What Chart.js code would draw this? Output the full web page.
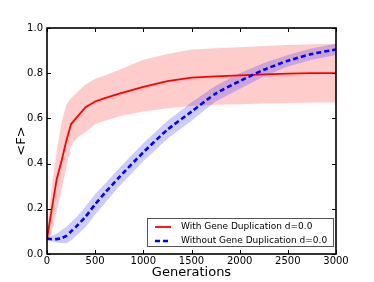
<!DOCTYPE html>
<html>
<head>
<meta charset="utf-8">
<script src="https://cdn.jsdelivr.net/npm/chart.js@4"></script>
<style>
  html, body { margin: 0; padding: 0; background: #fff; }
  #wrap { width: 374px; height: 282px; }
</style>
</head>
<body>
<div id="wrap"><canvas id="myChart" width="374" height="282"></canvas></div>
<script>
const generations = [0, 50, 100, 150, 200, 250, 300, 400, 500, 600, 750, 1000, 1250, 1500, 1750, 2000, 2250, 2500, 2750, 3000];

const withDup      = [0.065, 0.20, 0.33, 0.41, 0.50, 0.575, 0.60, 0.65, 0.675, 0.69, 0.71, 0.74, 0.765, 0.78, 0.786, 0.79, 0.795, 0.798, 0.80, 0.80];
const withDupUpper = [0.11, 0.30, 0.45, 0.58, 0.66, 0.69, 0.71, 0.75, 0.775, 0.79, 0.815, 0.86, 0.885, 0.905, 0.91, 0.915, 0.92, 0.925, 0.928, 0.93];
const withDupLower = [0.035, 0.10, 0.19, 0.28, 0.38, 0.48, 0.51, 0.54, 0.575, 0.59, 0.61, 0.63, 0.645, 0.655, 0.66, 0.663, 0.666, 0.668, 0.67, 0.67];

const withoutDup      = [0.068, 0.066, 0.066, 0.07, 0.08, 0.10, 0.12, 0.165, 0.22, 0.27, 0.34, 0.45, 0.55, 0.63, 0.71, 0.765, 0.815, 0.855, 0.885, 0.905];
const withoutDupUpper = [0.075, 0.08, 0.09, 0.105, 0.12, 0.14, 0.16, 0.21, 0.265, 0.31, 0.38, 0.49, 0.59, 0.67, 0.745, 0.80, 0.845, 0.88, 0.91, 0.93];
const withoutDupLower = [0.06, 0.056, 0.052, 0.048, 0.048, 0.06, 0.08, 0.12, 0.175, 0.225, 0.30, 0.41, 0.51, 0.59, 0.675, 0.73, 0.785, 0.83, 0.86, 0.88];

const xTicks = [0, 500, 1000, 1500, 2000, 2500, 3000];
const yTicks = [0.0, 0.2, 0.4, 0.6, 0.8, 1.0];

const FONT = 'DejaVu Sans';
const pts = arr => arr.map((v, i) => ({ x: generations[i], y: v }));

// frame, inward ticks and legend drawn like matplotlib
const framePlugin = {
    id: 'frame',
    afterDraw(chart) {
        const { ctx, chartArea: a, scales } = chart;
        ctx.save();
        ctx.strokeStyle = '#000';
        ctx.lineWidth = 1;
        xTicks.forEach(t => {
            const px = Math.round(scales.x.getPixelForValue(t)) + 0.5;
            ctx.beginPath();
            ctx.moveTo(px, a.bottom); ctx.lineTo(px, a.bottom - 4);
            ctx.moveTo(px, a.top); ctx.lineTo(px, a.top + 4);
            ctx.stroke();
        });
        yTicks.forEach(t => {
            const py = Math.round(scales.y.getPixelForValue(t)) + 0.5;
            ctx.beginPath();
            ctx.moveTo(a.left, py); ctx.lineTo(a.left + 4, py);
            ctx.moveTo(a.right, py); ctx.lineTo(a.right - 4, py);
            ctx.stroke();
        });
        ctx.lineWidth = 1.6;
        ctx.strokeRect(a.left, a.top, a.right - a.left, a.bottom - a.top);

        // legend
        const items = chart.data.datasets.filter(d => d.label);
        const bw = 186, bh = 28;
        const bx = a.right - 3 - bw, by = a.bottom - 8 - bh;
        ctx.fillStyle = '#fff';
        ctx.fillRect(bx, by, bw, bh);
        ctx.strokeStyle = '#555';
        ctx.lineWidth = 1;
        ctx.strokeRect(bx + 0.5, by + 0.5, bw, bh);
        ctx.font = '9px ' + FONT;
        ctx.textBaseline = 'middle';
        items.forEach((d, i) => {
            const y = by + 9 + i * 14;
            ctx.beginPath();
            ctx.strokeStyle = d.borderColor;
            ctx.lineWidth = d.borderWidth;
            ctx.setLineDash(d.borderDash || []);
            ctx.moveTo(bx + 8, y); ctx.lineTo(bx + 24, y);
            ctx.stroke();
            ctx.setLineDash([]);
            ctx.fillStyle = '#000';
            ctx.fillText(d.label, bx + 34, y);
        });
        ctx.restore();
    }
};

const ctx = document.getElementById('myChart').getContext('2d');
new Chart(ctx, {
    type: 'line',
    data: {
        datasets: [
            { data: pts(withDupUpper), fill: 1, backgroundColor: 'rgba(255,0,0,0.2)', borderWidth: 0, pointRadius: 0, order: 4 },
            { data: pts(withDupLower), fill: false, borderWidth: 0, pointRadius: 0, order: 4 },
            { data: pts(withoutDupUpper), fill: 3, backgroundColor: 'rgba(0,0,255,0.2)', borderWidth: 0, pointRadius: 0, order: 3 },
            { data: pts(withoutDupLower), fill: false, borderWidth: 0, pointRadius: 0, order: 3 },
            {
                label: 'With Gene Duplication d=0.0',
                data: pts(withDup), borderColor: '#ff0000', borderWidth: 1.8,
                pointRadius: 0, fill: false, tension: 0, order: 2
            },
            {
                label: 'Without Gene Duplication d=0.0',
                data: pts(withoutDup), borderColor: '#0000ff', borderWidth: 2.6,
                borderDash: [5, 3], pointRadius: 0, fill: false, tension: 0.2, order: 1
            }
        ]
    },
    options: {
        responsive: false,
        animation: false,
        layout: { padding: { left: 14, top: 28, right: 38, bottom: 2 } },
        plugins: { legend: { display: false }, tooltip: { enabled: false } },
        scales: {
            x: {
                type: 'linear', min: 0, max: 3000,
                afterBuildTicks: s => { s.ticks = xTicks.map(v => ({ value: v })); },
                afterFit: s => { s.height = 26; },
                grid: { display: false, drawTicks: false, tickLength: 0 },
                border: { display: false },
                ticks: { color: '#000', font: { family: FONT, size: 10 }, padding: 1, maxRotation: 0, callback: v => String(v) },
                title: { display: true, text: 'Generations', color: '#000', font: { family: FONT, size: 13 }, padding: 0 }
            },
            y: {
                min: 0, max: 1,
                afterBuildTicks: s => { s.ticks = yTicks.map(v => ({ value: v })); },
                afterFit: s => { s.width = 33; },
                grid: { display: false, drawTicks: false, tickLength: 0 },
                border: { display: false },
                ticks: { color: '#000', font: { family: FONT, size: 10 }, padding: 4, callback: v => v.toFixed(1) },
                title: { display: true, text: '<F>', color: '#000', font: { family: FONT, size: 13 }, padding: 0 }
            }
        }
    },
    plugins: [framePlugin]
});
</script>
</body>
</html>
